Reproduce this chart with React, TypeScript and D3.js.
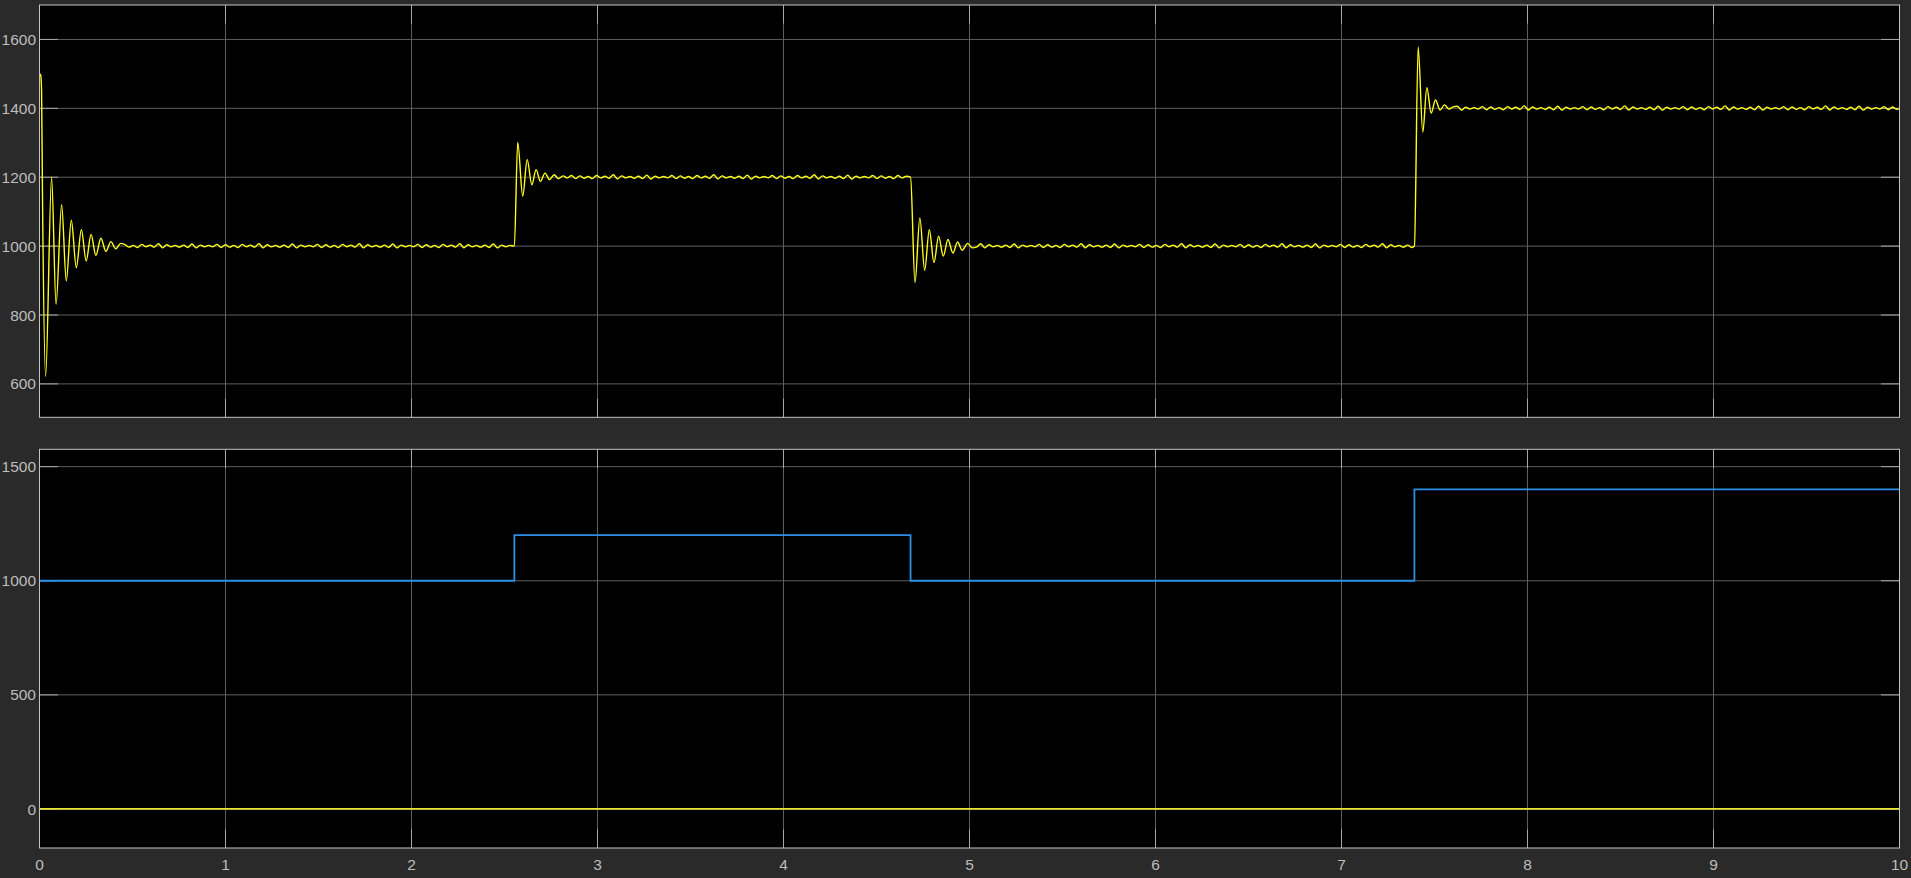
import React from "react";
import * as d3 from "d3";

// speed response: transient extrema (time s, rpm)
const transient0 = [
  [0, 1500], [0.006, 1497], [0.011, 1455], [0.016, 1150], [0.033, 622],
  [0.065, 1200], [0.089, 831], [0.119, 1120], [0.144, 899], [0.171, 1075],
  [0.198, 937], [0.225, 1048], [0.251, 957], [0.277, 1034], [0.303, 973],
  [0.33, 1023], [0.357, 985], [0.384, 1013], [0.41, 992], [0.437, 1008],
];
const transient1 = [
  [2.553, 1000], [2.571, 1302], [2.598, 1145], [2.622, 1251], [2.647, 1178],
  [2.67, 1222], [2.693, 1188], [2.718, 1212], [2.742, 1193], [2.767, 1207],
  [2.79, 1196], [2.815, 1204],
];
const transient2 = [
  [4.683, 1200], [4.707, 894], [4.733, 1082], [4.759, 930], [4.784, 1048],
  [4.809, 952], [4.834, 1029], [4.859, 971], [4.884, 1019], [4.911, 980],
  [4.936, 1012], [4.96, 988], [4.99, 1008], [5.015, 995],
];
const transient3 = [
  [7.392, 1000], [7.412, 1578], [7.437, 1331], [7.459, 1460], [7.482, 1386],
  [7.505, 1424], [7.53, 1395], [7.553, 1410], [7.578, 1398], [7.6, 1404],
];
const levels = [1000, 1200, 1000, 1400];
// small steady-state ripple, deviations at each half period
const ripple = [4, -3, 2, -4, 5, -2, 3, -3, 7, -5, 4, -2, 2, -3, 3, -4, 6, -5, 3, -2, 2, -2, 5, -4];
const rippleStep = 0.0225;

// reference (bottom panel)
const refTimes = [0, 2.553, 4.683, 7.392, 10];
const refValues = [1000, 1200, 1000, 1400, 1400];
const loadTimes = [0, 10];
const loadValues = [0, 0];

const xTicks = [0, 1, 2, 3, 4, 5, 6, 7, 8, 9, 10];
const topTicks = [600, 800, 1000, 1200, 1400, 1600];
const bottomTicks = [0, 500, 1000, 1500];

const W = 1911;
const H = 878;
const left = 39.5;
const right = 1899.5;

function buildSpeed() {
  const segs = [transient0, transient1, transient2, transient3];
  const ends = [2.553, 4.683, 7.392, 10];
  const pts: number[][] = [];
  let k = 0;
  segs.forEach((seg, i) => {
    seg.forEach((p) => pts.push(p));
    let t = seg[seg.length - 1][0] + rippleStep;
    while (t < ends[i] - 0.006) {
      pts.push([t, levels[i] + ripple[k % ripple.length]]);
      k++;
      t += rippleStep;
    }
    if (i === segs.length - 1) pts.push([10, levels[i]]);
  });
  return pts;
}

const speed = buildSpeed();

function Panel({ top, bottom, domain, ticks, children, showX }) {
  const x = d3.scaleLinear().domain([0, 10]).range([left, right]);
  const y = d3.scaleLinear().domain(domain).range([bottom, top]);
  const tl = 18.6;
  return (
    <g>
      <rect x={left} y={top} width={right - left} height={bottom - top} fill="#000" />
      {xTicks.map((t) => (
        <line key={"gx" + t} x1={x(t)} x2={x(t)} y1={top} y2={bottom} stroke="#5e5e5e" strokeWidth={1} />
      ))}
      {ticks.map((t) => (
        <line key={"gy" + t} x1={left} x2={right} y1={y(t)} y2={y(t)} stroke="#5e5e5e" strokeWidth={1} />
      ))}
      {xTicks.map((t) => (
        <g key={"tx" + t} stroke="#a8a8a8" strokeWidth={1}>
          <line x1={x(t)} x2={x(t)} y1={top} y2={top + tl} />
          <line x1={x(t)} x2={x(t)} y1={bottom} y2={bottom - tl} />
        </g>
      ))}
      {ticks.map((t) => (
        <g key={"ty" + t} stroke="#a8a8a8" strokeWidth={1}>
          <line x1={left} x2={left + tl} y1={y(t)} y2={y(t)} />
          <line x1={right} x2={right - tl} y1={y(t)} y2={y(t)} />
        </g>
      ))}
      <g>{children(x, y)}</g>
      <rect x={left} y={top} width={right - left} height={bottom - top} fill="none" stroke="#c4c4c4" strokeWidth={1} />
      {ticks.map((t) => (
        <text key={"ly" + t} x={36} y={y(t)} dy="0.36em" textAnchor="end" fill="#bdbdbd" fontSize={15.5} fontFamily="Liberation Sans, Arial, sans-serif">
          {t}
        </text>
      ))}
      {showX &&
        xTicks.map((t) => (
          <text key={"lx" + t} x={x(t)} y={870} textAnchor="middle" fill="#bdbdbd" fontSize={15.5} fontFamily="Liberation Sans, Arial, sans-serif">
            {t}
          </text>
        ))}
    </g>
  );
}

export default function App() {
  const speedLine = (x, y) =>
    d3
      .line()
      .x((d) => x(d[0]))
      .y((d) => y(d[1]))
      .curve(d3.curveMonotoneX)(speed);

  const stepLine = (x, y, ts, vs) =>
    d3
      .line()
      .x((d) => x(d[0]))
      .y((d) => y(d[1]))
      .curve(d3.curveStepAfter)(ts.map((t, i) => [t, vs[i]]));

  return (
    <div style={{ position: "fixed", left: 0, top: 0, width: W, height: H, background: "#2a2a2a" }}>
      <svg width={W} height={H} style={{ display: "block" }}>
        <rect width={W} height={H} fill="#2a2a2a" />
        <Panel top={5} bottom={417.3} domain={[503, 1700]} ticks={topTicks} showX={false}>
          {(x, y) => (
            <path d={speedLine(x, y)} fill="none" stroke="#ffff1a" strokeWidth={1.4} strokeLinejoin="round" />
          )}
        </Panel>
        <Panel top={449.3} bottom={848} domain={[-171, 1576]} ticks={bottomTicks} showX={true}>
          {(x, y) => (
            <g>
              <path d={stepLine(x, y, loadTimes, loadValues)} fill="none" stroke="#e8e830" strokeWidth={1.8} />
              <path d={stepLine(x, y, refTimes, refValues)} fill="none" stroke="#2b8fe6" strokeWidth={1.8} />
            </g>
          )}
        </Panel>
      </svg>
    </div>
  );
}
